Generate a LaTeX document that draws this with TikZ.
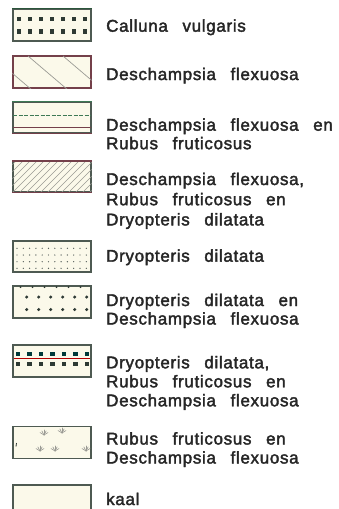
\documentclass[tikz,border=0pt]{standalone}
\usepackage{fontspec}
\setmainfont{Liberation Sans}[LetterSpace=4.0,WordSpace=2.7,FakeBold=2.2]
\definecolor{cream}{HTML}{FBF9EA}
\definecolor{edge}{HTML}{4E5A52}
\definecolor{maroon}{HTML}{74404A}
\definecolor{dkgreen}{HTML}{3E7A55}
\definecolor{txt}{HTML}{262626}
\definecolor{hatchc}{HTML}{9A9A94}
\definecolor{markc}{HTML}{2E3A34}
\begin{document}
\begin{tikzpicture}[x=1pt,y=-1pt,
  keybox/.style={fill=cream, draw=edge, line width=1.4pt, minimum width=78pt, minimum height=32pt, inner sep=0pt},
  lbl/.style={anchor=base west, inner sep=0pt, text=txt, font=\fontsize{17}{19}\selectfont},
  hline/.style={line width=0.5pt, draw=hatchc},
  sq/.style={fill=markc},
  tuft/.style={draw=hatchc, line width=0.6pt, line cap=round}]
\useasboundingbox (0,0) rectangle (339,509);

% ---- boxes ----
\node[keybox] (b1) at (52,25) {};
\node[keybox, draw=maroon] (b2) at (52,72) {};
\node[keybox, minimum height=31pt] (b3) at (52,117.5) {};
\node[keybox, minimum height=30pt] (b4) at (52,176.7) {};
\node[keybox, minimum height=31pt] (b5) at (52,256.5) {};
\node[keybox] (b6) at (52,302) {};
\node[keybox] (b7) at (52,361) {};
\node[keybox] (b8) at (52,442.5) {};
\node[keybox] (b9) at (52,501) {};

% box 1: two rows of squares
\draw[dkgreen!70!black, line width=1.4pt] (b1.north west) -- (b1.north east);
\foreach \x in {19,30,...,85} {
  \fill[sq] (\x-2.2,17) rectangle ++(4.4,4.4);
  \fill[sq] (\x-2.2,29.2) rectangle ++(4.4,4.4);
}

% box 2: sparse diagonal lines
\begin{scope}
  \clip (b2.south west) rectangle (b2.north east);
  \foreach \x in {-8,28,63} \draw[hline, line width=0.7pt] (\x,56) -- ++(40,34);
\end{scope}

% box 3: two horizontal lines
\draw[dkgreen, line width=1.4pt] (b3.north west) -- (b3.north east);
\draw[maroon, line width=1.4pt] (b3.south west) -- (b3.south east);
\draw[dkgreen, line width=0.8pt, dash pattern=on 4pt off 1.5pt] (13,115.5) -- (91,115.5);
\draw[maroon, line width=0.8pt] (13,127.7) -- (91,127.7);

% box 4: dense hatch
\begin{scope}
  \clip (b4.south west) rectangle (b4.north east);
  \foreach \x in {-30,-23,...,90} \draw[hline] (\x,193) -- ++(34,-34);
\end{scope}
\draw[maroon, line width=1.4pt] (b4.north west) -- (b4.north east);
\draw[maroon, line width=1.4pt] (b4.south west) -- (b4.south east);

% box 5: fine dot grid
\foreach \y in {248.3,255,261.7,268.3}
  \foreach \i in {0,...,11}
    \fill[markc!80] (17+6.3*\i,\y) circle (0.7);

% box 6: larger dots
\foreach \y in {297,309.5}
  \foreach \i in {0,...,5}
    \fill[markc] (26.7+12*\i,\y) circle (1.7);
\foreach \i in {0,...,5}
  \fill[markc] (20.5+12*\i,287) circle (1.0);

% box 7: two rows of squares with coloured line
\draw[red!70!black, line width=0.7pt] (14,358) -- (90,358);
\foreach \x in {18,29.5,...,87} {
  \fill[sq, fill=teal!45!black] (\x-2.2,351.6) rectangle ++(4.4,4.4);
  \fill[sq] (\x-2.2,361.6) rectangle ++(4.4,4.4);
}

% box 8: grass tufts
\foreach \cx/\cy in {44/435, 62/433, 40/451, 55/451, 86/451} {
  \draw[tuft] (\cx,\cy) -- ++(-4,-2.5);
  \draw[tuft] (\cx,\cy) -- ++(-2.2,-4.2);
  \draw[tuft] (\cx,\cy) -- ++(0,-5);
  \draw[tuft] (\cx,\cy) -- ++(2.2,-4.2);
  \draw[tuft] (\cx,\cy) -- ++(4,-2.5);
}
\draw[markc, line width=0.8pt] (16.5,443) -- (16,446.5);

% ---- labels ----
\node[lbl] (t1) at (106,31.7) {Calluna vulgaris};
\node[lbl] (t2) at (106,80) {Deschampsia flexuosa};
\node[lbl] (t3) at (106,130.7) {\begin{tabular}[t]{@{}l@{}}Deschampsia flexuosa en\\[-0.5pt]Rubus fruticosus\end{tabular}};
\node[lbl] (t4) at (106,185) {\begin{tabular}[t]{@{}l@{}}Deschampsia flexuosa,\\[1.2pt]Rubus fruticosus en\\[1.2pt]Dryopteris dilatata\end{tabular}};
\node[lbl] (t5) at (106,261.7) {Dryopteris dilatata};
\node[lbl] (t6) at (106,306) {\begin{tabular}[t]{@{}l@{}}Dryopteris dilatata en\\[-0.5pt]Deschampsia flexuosa\end{tabular}};
\node[lbl] (t7) at (106,368.3) {\begin{tabular}[t]{@{}l@{}}Dryopteris dilatata,\\Rubus fruticosus en\\Deschampsia flexuosa\end{tabular}};
\node[lbl] (t8) at (106,444.5) {\begin{tabular}[t]{@{}l@{}}Rubus fruticosus en\\Deschampsia flexuosa\end{tabular}};
\node[lbl] (t9) at (106,505) {kaal};
\end{tikzpicture}
\end{document}
